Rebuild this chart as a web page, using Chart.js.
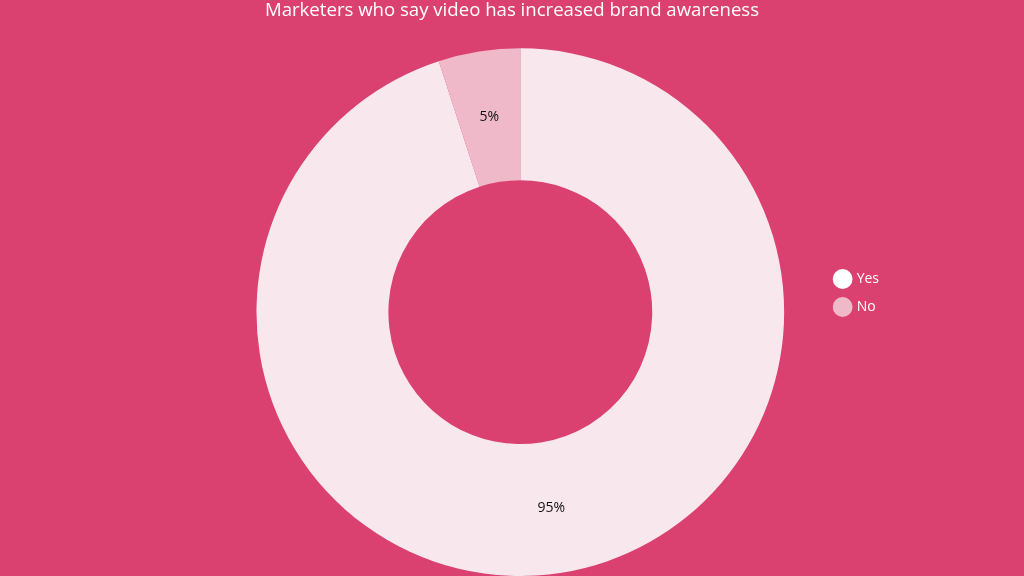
<!DOCTYPE html>
<html>
<head>
<meta charset="utf-8">
<script src="https://cdn.jsdelivr.net/npm/chart.js@4"></script>
<style>
  html, body { margin: 0; padding: 0; background: #DB4170; }
  #wrap { width: 1024px; height: 576px; }
</style>
</head>
<body>
<div id="wrap"><canvas id="chartAwareness"></canvas></div>
<script>
// DATOS
const categorias = ['Yes', 'No'];
const valores = [95, 5];
const etiquetas = ['95%', '5%'];

const coloresSlice = ['#F8E8EE', '#F0B9CA'];
const coloresLegend = ['#FFFFFF', '#F0B9CA'];

// etiquetas dentro de cada porcion
const sliceLabels = {
  id: 'sliceLabels',
  afterDatasetsDraw(chart) {
    const ctx = chart.ctx;
    const meta = chart.getDatasetMeta(0);
    ctx.save();
    ctx.font = '14px "Open Sans", sans-serif';
    ctx.fillStyle = '#111111';
    ctx.textAlign = 'center';
    ctx.textBaseline = 'middle';
    meta.data.forEach((arc, i) => {
      const p = arc.tooltipPosition();
      ctx.fillText(etiquetas[i], p.x, p.y);
    });
    ctx.restore();
  }
};

// titulo centrado en todo el ancho, leyenda un poco mas abajo
const ajustes = {
  id: 'ajustes',
  afterLayout(chart) {
    if (chart.titleBlock) {
      chart.titleBlock.left = 0;
      chart.titleBlock.right = chart.width;
      chart.titleBlock.width = chart.width;
    }
    if (chart.legend) {
      chart.legend.top += 5;
      chart.legend.bottom += 5;
    }
  }
};

const ctx = document.getElementById('chartAwareness');

new Chart(ctx, {
  type: 'doughnut',
  data: {
    labels: categorias,
    datasets: [{
      data: valores,
      backgroundColor: coloresSlice,
      borderWidth: 0,
      hoverOffset: 0
    }]
  },
  options: {
    responsive: true,
    maintainAspectRatio: false,
    animation: false,
    cutout: '50%',
    layout: { padding: { left: 219, right: 135 } },
    plugins: {
      title: {
        display: true,
        text: 'Marketers who say video has increased brand awareness',
        color: '#FFFFFF',
        font: { family: '"Open Sans", sans-serif', size: 18.6, weight: 'normal' },
        padding: { top: 0, bottom: 26 }
      },
      legend: {
        position: 'right',
        labels: {
          color: '#FFFFFF',
          font: { family: '"Open Sans", sans-serif', size: 14 },
          usePointStyle: true,
          pointStyle: 'circle',
          boxWidth: 14,
          boxHeight: 14,
          padding: 14,
          generateLabels(chart) {
            const items = Chart.overrides.doughnut.plugins.legend.labels.generateLabels(chart);
            items.forEach((it, i) => {
              it.fillStyle = coloresLegend[i];
              it.strokeStyle = coloresLegend[i];
            });
            return items;
          }
        }
      },
      tooltip: { enabled: false }
    }
  },
  plugins: [sliceLabels, ajustes]
});
</script>
</body>
</html>
